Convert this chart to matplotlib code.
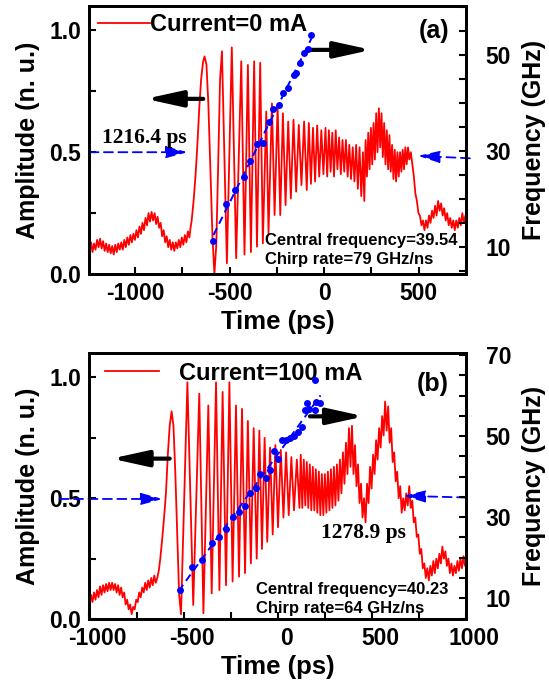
import matplotlib
matplotlib.use("Agg")
import matplotlib.pyplot as plt
import matplotlib.transforms as mtransforms
from matplotlib.ticker import MultipleLocator, FixedLocator, FormatStrFormatter
import numpy as np

plt.rcParams["font.family"] = ["Liberation Sans", "DejaVu Sans"]
plt.rcParams["font.weight"] = "bold"
plt.rcParams["axes.labelweight"] = "bold"
plt.rcParams["axes.unicode_minus"] = False

#---------------------- panel (a): current = 0 mA ----------------------
time_a = [
    -1240, -1232, -1224, -1216, -1208, -1200, -1192, -1184, -1176, -1168,
    -1160, -1152, -1144, -1136, -1128, -1120, -1112, -1104, -1096, -1088,
    -1080, -1072, -1064, -1056, -1048, -1040, -1032, -1024, -1016, -1008,
    -1000, -992, -984, -976, -968, -960, -952, -944, -936, -928,
    -920, -912, -904, -896, -888, -880, -872, -864, -856, -848,
    -840, -832, -824, -816, -808, -800, -792, -784, -776, -768,
    -760, -752, -744, -736, -728, -720, -712, -706,
    # leading edge and first resolved fringes
    -700, -690, -680, -670, -660, -650, -640, -632, -622, -612,
    -600, -590, -580, -570, -560, -550, -540, -514, -488, -465,
    -438, -421, -403, -387, -370, -355, -338, -324, -306,
    -294, -276, -262, -246, -232, -218, -204, -190, -176, -162,
    -148, -134, -120, -106, -92, -81, -70, -59, -48, -37,
    -26, -15, -4,
    # dense fringes
    7, 16, 25, 34, 43, 52, 61, 70, 79, 88,
    97, 106, 115, 124, 133, 142, 151, 160, 169, 178,
    187, 196, 205, 212, 219, 226, 233, 240, 247, 254,
    261, 268, 275, 282, 289, 296, 303, 310, 317, 324,
    331, 338, 345, 352, 359, 366, 373, 380, 387, 394,
    401, 408, 415, 422, 429, 436, 443, 450, 458, 466,
    # trailing edge
    474, 482, 490, 498, 506, 514, 522, 530, 538, 546,
    554, 562, 570, 578, 586, 594, 602, 610, 618, 626,
    634, 642, 650, 658, 666, 674, 682, 690, 698, 706,
    714, 722, 730, 738, 746, 750,
]
amp_a = [
    0.10, 0.13, 0.09, 0.125, 0.10, 0.14, 0.11, 0.145, 0.105, 0.135,
    0.095, 0.125, 0.09, 0.12, 0.085, 0.115, 0.08, 0.12, 0.09, 0.125,
    0.10, 0.13, 0.10, 0.14, 0.11, 0.15, 0.12, 0.16, 0.13, 0.165,
    0.14, 0.18, 0.15, 0.195, 0.165, 0.21, 0.18, 0.23, 0.20, 0.25,
    0.215, 0.255, 0.22, 0.25, 0.205, 0.235, 0.19, 0.21, 0.155, 0.18,
    0.13, 0.155, 0.11, 0.14, 0.10, 0.13, 0.095, 0.13, 0.105, 0.14,
    0.11, 0.15, 0.12, 0.16, 0.13, 0.175, 0.15, 0.19,
    0.22, 0.30, 0.40, 0.53, 0.68, 0.80, 0.87, 0.893, 0.86, 0.70,
    0.40, 0.15, 0.0, 0.12, 0.45, 0.80, 0.914, 0.044, 0.93, 0.065,
    0.873, 0.08, 0.858, 0.09, 0.873, 0.112, 0.867, 0.126, 0.667,
    0.167, 0.70, 0.242, 0.69, 0.242, 0.66, 0.283, 0.626, 0.31, 0.633,
    0.338, 0.612, 0.365, 0.626, 0.345, 0.62, 0.37, 0.60, 0.38, 0.61,
    0.40, 0.59, 0.41,
    0.60, 0.40, 0.59, 0.42, 0.58, 0.40, 0.59, 0.43, 0.56, 0.41,
    0.55, 0.42, 0.55, 0.40, 0.53, 0.39, 0.52, 0.38, 0.53, 0.35,
    0.52, 0.32, 0.50, 0.30, 0.55, 0.40, 0.58, 0.43, 0.60, 0.45,
    0.62, 0.47, 0.66, 0.50, 0.68, 0.52, 0.66, 0.48, 0.62, 0.45,
    0.59, 0.43, 0.57, 0.42, 0.53, 0.39, 0.51, 0.38, 0.50, 0.40,
    0.50, 0.42, 0.51, 0.43, 0.52, 0.45, 0.52, 0.47, 0.50, 0.45,
    0.40, 0.33, 0.30, 0.25, 0.24, 0.20, 0.22, 0.18, 0.22, 0.19,
    0.24, 0.21, 0.26, 0.23, 0.28, 0.24, 0.30, 0.26, 0.29, 0.24,
    0.27, 0.22, 0.25, 0.20, 0.23, 0.19, 0.22, 0.18, 0.22, 0.19,
    0.23, 0.20, 0.25, 0.21, 0.24, 0.21,
]
# instantaneous frequency points (ps, GHz)
dot_time_a = [-585, -519, -470, -426, -391, -355, -324, -294, -271, -241,
              -220, -191, -162, -148, -126, -105, -86, -68]
dot_freq_a = [11.3, 19.0, 21.9, 24.7, 28.0, 31.6, 31.8, 36.1, 38.8, 39.6,
              42.1, 43.1, 45.8, 46.2, 48.4, 50.5, 51.2, 54.1]
fit_span_a = [-585, -68]
chirp_rate_a = 79        # GHz/ns
central_freq_a = 39.54
fwhm_a = 1216.4          # ps
fwhm_center_a = -113

#---------------------- panel (b): current = 100 mA ----------------------
time_b = [
    -1000, -992, -984, -976, -968, -960, -952, -944, -936, -928,
    -920, -912, -904, -896, -888, -880, -872, -864, -856, -848,
    -840, -832, -824, -816, -808, -800, -792, -784, -776, -768,
    -760, -752, -744, -736, -728, -720, -712, -704, -696, -688,
    -680, -672, -664, -656, -648, -640, -632,
    -624, -614, -604, -594, -584, -574, -564, -554, -544, -534,
    -524, -514, -480, -449, -417, -395, -369, -351, -328, -310,
    -293, -275, -257, -240, -222, -206, -190, -174, -159, -143,
    -128, -112, -98, -84, -70, -56, -41, -27, -13, 1,
    16, 30, 44, 58, 72, 86, 101, 115,
    122, 130, 138, 146, 154, 162, 170, 178, 186, 194,
    202, 210, 218, 226, 234, 242, 250, 258, 266, 274,
    282, 290, 298, 306, 314, 322, 330, 338, 346, 354,
    362, 370, 378, 386, 394, 402, 410, 418, 426, 434,
    442, 450, 458, 466, 474, 482, 490, 498, 506, 514,
    522, 530, 538, 546, 554, 562, 570, 578, 586, 594,
    602, 610, 618, 626, 634, 642, 650, 658, 666, 674,
    682, 690, 698, 706, 714, 722, 730, 738, 746, 754,
    762, 770, 778, 786, 794, 802, 810, 818, 826, 834,
    842, 850, 858, 866, 874, 882, 890, 898, 906, 914,
    922, 930, 938, 946, 954, 962, 970, 978, 986, 994,
    1000,
]
amp_b = [
    0.06, 0.10, 0.07, 0.11, 0.08, 0.12, 0.09, 0.135, 0.10, 0.14,
    0.11, 0.145, 0.115, 0.15, 0.12, 0.15, 0.12, 0.145, 0.11, 0.14,
    0.10, 0.13, 0.09, 0.11, 0.06, 0.08, 0.04, 0.06, 0.02, 0.05,
    0.04, 0.08, 0.07, 0.11, 0.09, 0.13, 0.11, 0.15, 0.12, 0.16,
    0.13, 0.17, 0.14, 0.18, 0.15, 0.17, 0.20,
    0.25, 0.33, 0.42, 0.52, 0.68, 0.80, 0.86, 0.80, 0.60, 0.35,
    0.10, 0.02, 0.98, 0.058, 0.933, 0.024, 0.884, 0.106, 0.98, 0.12,
    0.94, 0.14, 0.98, 0.155, 0.884, 0.175, 0.87, 0.19, 0.82, 0.23,
    0.79, 0.25, 0.78, 0.29, 0.75, 0.32, 0.71, 0.35, 0.72, 0.38,
    0.70, 0.42, 0.69, 0.43, 0.67, 0.45, 0.66, 0.46,
    0.68, 0.46, 0.66, 0.47, 0.65, 0.46, 0.64, 0.45, 0.63, 0.45,
    0.62, 0.44, 0.61, 0.43, 0.60, 0.43, 0.60, 0.44, 0.61, 0.45,
    0.62, 0.46, 0.63, 0.47, 0.64, 0.49, 0.66, 0.52, 0.69, 0.56,
    0.73, 0.60, 0.79, 0.63, 0.80, 0.60, 0.72, 0.55, 0.64, 0.48,
    0.56, 0.42, 0.50, 0.40, 0.56, 0.48, 0.63, 0.54, 0.68, 0.60,
    0.74, 0.66, 0.79, 0.71, 0.84, 0.76, 0.90, 0.78, 0.88, 0.73,
    0.79, 0.65, 0.69, 0.57, 0.61, 0.50, 0.55, 0.44, 0.50, 0.45,
    0.52, 0.47, 0.55, 0.46, 0.49, 0.40, 0.42, 0.34, 0.35, 0.27,
    0.29, 0.21, 0.23, 0.17, 0.21, 0.16, 0.22, 0.18, 0.24, 0.19,
    0.25, 0.21, 0.27, 0.23, 0.30, 0.25, 0.28, 0.22, 0.25, 0.19,
    0.23, 0.18, 0.22, 0.19, 0.24, 0.20, 0.25, 0.21, 0.26, 0.22,
    0.24,
]
dot_time_b = [-519, -454, -401, -351, -310, -275, -236, -206, -174, -147,
              -117, -94, -62, -41, -18, 3, 21, 44, 65, 86,
              106, 130, 142, 168, 195, 155, 205, 226, 198]
dot_freq_b = [12.0, 17.6, 19.4, 23.6, 25.2, 27.0, 30.1, 31.4, 32.8, 35.9,
              37.1, 40.7, 39.6, 41.6, 46.2, 44.4, 49.0, 49.0, 49.5, 50.0,
              51.1, 52.3, 56.5, 56.6, 56.5, 58.2, 58.4, 58.1, 63.7]
fit_span_b = [-527, 227]
chirp_rate_b = 64
central_freq_b = 40.23
fwhm_b = 1278.9
fwhm_center_b = 28


def chirp_fit(dot_t, dot_f, rate, span):
    # straight line with the quoted chirp rate, least-squares intercept
    slope = rate / 1000.0
    t = np.asarray(dot_t, float)
    f = np.asarray(dot_f, float)
    b = np.mean(f - slope * t)
    xs = np.array(span, float)
    return xs, b + slope * xs


def black_arrow(ax, tail, head):
    ax.annotate("", xy=head, xytext=tail,
                arrowprops=dict(arrowstyle="-|>,head_length=1.0,head_width=0.22",
                                color="k", lw=3, mutation_scale=22,
                                shrinkA=0, shrinkB=0))


def blue_arrow(ax, tail, head):
    ax.annotate("", xy=head, xytext=tail, annotation_clip=False,
                arrowprops=dict(arrowstyle="-|>,head_length=1.1,head_width=0.3",
                                color="blue", lw=1.3, linestyle=(0, (5, 3)),
                                mutation_scale=12, shrinkA=0, shrinkB=0))


def setup_axes(ax, ax2, xlim, flim, fticks):
    ax.set_xlim(*xlim)
    ax.set_ylim(0, 1.1)
    ax2.set_ylim(*flim)
    ax.xaxis.set_major_locator(MultipleLocator(500))
    ax.xaxis.set_minor_locator(MultipleLocator(250))
    ax.yaxis.set_major_locator(MultipleLocator(0.5))
    ax.yaxis.set_minor_locator(MultipleLocator(0.25))
    ax.yaxis.set_major_formatter(FormatStrFormatter("%.1f"))
    ax2.yaxis.set_major_locator(FixedLocator(fticks))
    ax2.yaxis.set_minor_locator(MultipleLocator(5))
    ax.tick_params(which="both", direction="in", length=5, width=1.5,
                   top=False, right=False, labelsize=16.5, pad=6)
    ax2.tick_params(which="both", direction="in", length=5, width=1.5,
                    labelsize=16.5, pad=14)
    for a in (ax, ax2):
        for s in a.spines.values():
            s.set_linewidth(2)
    ax.set_xlabel("Time (ps)", fontsize=18.5, labelpad=3)
    ax.set_ylabel("Amplitude (n. u.)", fontsize=18, labelpad=7)
    ax2.set_ylabel("Frequency (GHz)", fontsize=18, labelpad=8)


fig = plt.figure(figsize=(5.49, 6.83), dpi=100)

#---------------------- (a) ----------------------
ax = fig.add_axes([0.163, 0.5988, 0.686, 0.3924])
ax2 = ax.twinx()
line, = ax.plot(time_a, amp_a, color="red", lw=1.3, label="Current=0 mA")
fx, fy = chirp_fit(dot_time_a, dot_freq_a, chirp_rate_a, fit_span_a)
ax2.plot(fx, fy, color="blue", lw=1.4, dashes=(4, 2.5))
ax2.plot(dot_time_a, dot_freq_a, "o", color="blue", ms=5, mec="none")
setup_axes(ax, ax2, (-1240, 750), (4.45, 60.2), [10, 30, 50])

black_arrow(ax, (-639, 0.719), (-944, 0.719))
black_arrow(ax, (-84, 0.92), (250, 0.92))
blue_arrow(ax, (-1240, 0.5), (fwhm_center_a - fwhm_a / 2, 0.5))
blue_arrow(ax, (770, 0.475), (fwhm_center_a + fwhm_a / 2, 0.485))

ax.text(-1176, 0.56, f"{fwhm_a} ps", family="Liberation Serif", weight="bold",
        fontsize=15.5, va="center", ha="left")
ax.text(-310, 0.137, f"Central frequency={central_freq_a}", fontsize=12, va="center")
ax.text(-310, 0.06, f"Chirp rate={chirp_rate_a} GHz/ns", fontsize=12, va="center")
ax.text(582, 0.996, "(a)", fontsize=18, ha="center", va="center")
ax.legend(handles=[line], loc="center left", bbox_to_anchor=(0.0226, 0.93),
          frameon=False, fontsize=17, handlelength=2.2, handletextpad=0.0,
          borderpad=0, borderaxespad=0)

#---------------------- (b) ----------------------
bx = fig.add_axes([0.163, 0.0937, 0.686, 0.389])
bx2 = bx.twinx()
line_b, = bx.plot(time_b, amp_b, color="red", lw=1.3, label="Current=100 mA")
fx, fy = chirp_fit(dot_time_b, dot_freq_b, chirp_rate_b, fit_span_b)
bx2.plot(fx, fy, color="blue", lw=1.4, dashes=(4, 2.5))
bx2.plot(dot_time_b, dot_freq_b, "o", color="blue", ms=5, mec="none")
setup_axes(bx, bx2, (-1000, 1000), (4.9, 70.4), [10, 30, 50, 70])

black_arrow(bx, (-574, 0.664), (-884, 0.664))
black_arrow(bx, (171, 0.839), (459, 0.839))
blue_arrow(bx, (-1159, 0.497), (fwhm_center_b - fwhm_b / 2, 0.497))
blue_arrow(bx, (1000, 0.503), (fwhm_center_b + fwhm_b / 2, 0.51))

bx.text(232, 0.357, f"{fwhm_b} ps", family="Liberation Serif", weight="bold",
        fontsize=15.5, va="center", ha="left")
bx.text(-118, 0.123, f"Central frequency={central_freq_b}", fontsize=12, va="center")
bx.text(-118, 0.044, f"Chirp rate={chirp_rate_b} GHz/ns", fontsize=12, va="center")
bx.text(821, 0.974, "(b)", fontsize=18, ha="center", va="center")
bx.legend(handles=[line_b], loc="center left", bbox_to_anchor=(0.041, 0.925),
          frameon=False, fontsize=17, handlelength=2.3, handletextpad=0.85,
          borderpad=0, borderaxespad=0)

# x tick labels of the lower panel sit a little right of their ticks
shift = mtransforms.ScaledTranslation(6 / 72, 0, fig.dpi_scale_trans)
for lab in bx.get_xticklabels():
    lab.set_transform(lab.get_transform() + shift)

fig.savefig("out.png", dpi=100)
